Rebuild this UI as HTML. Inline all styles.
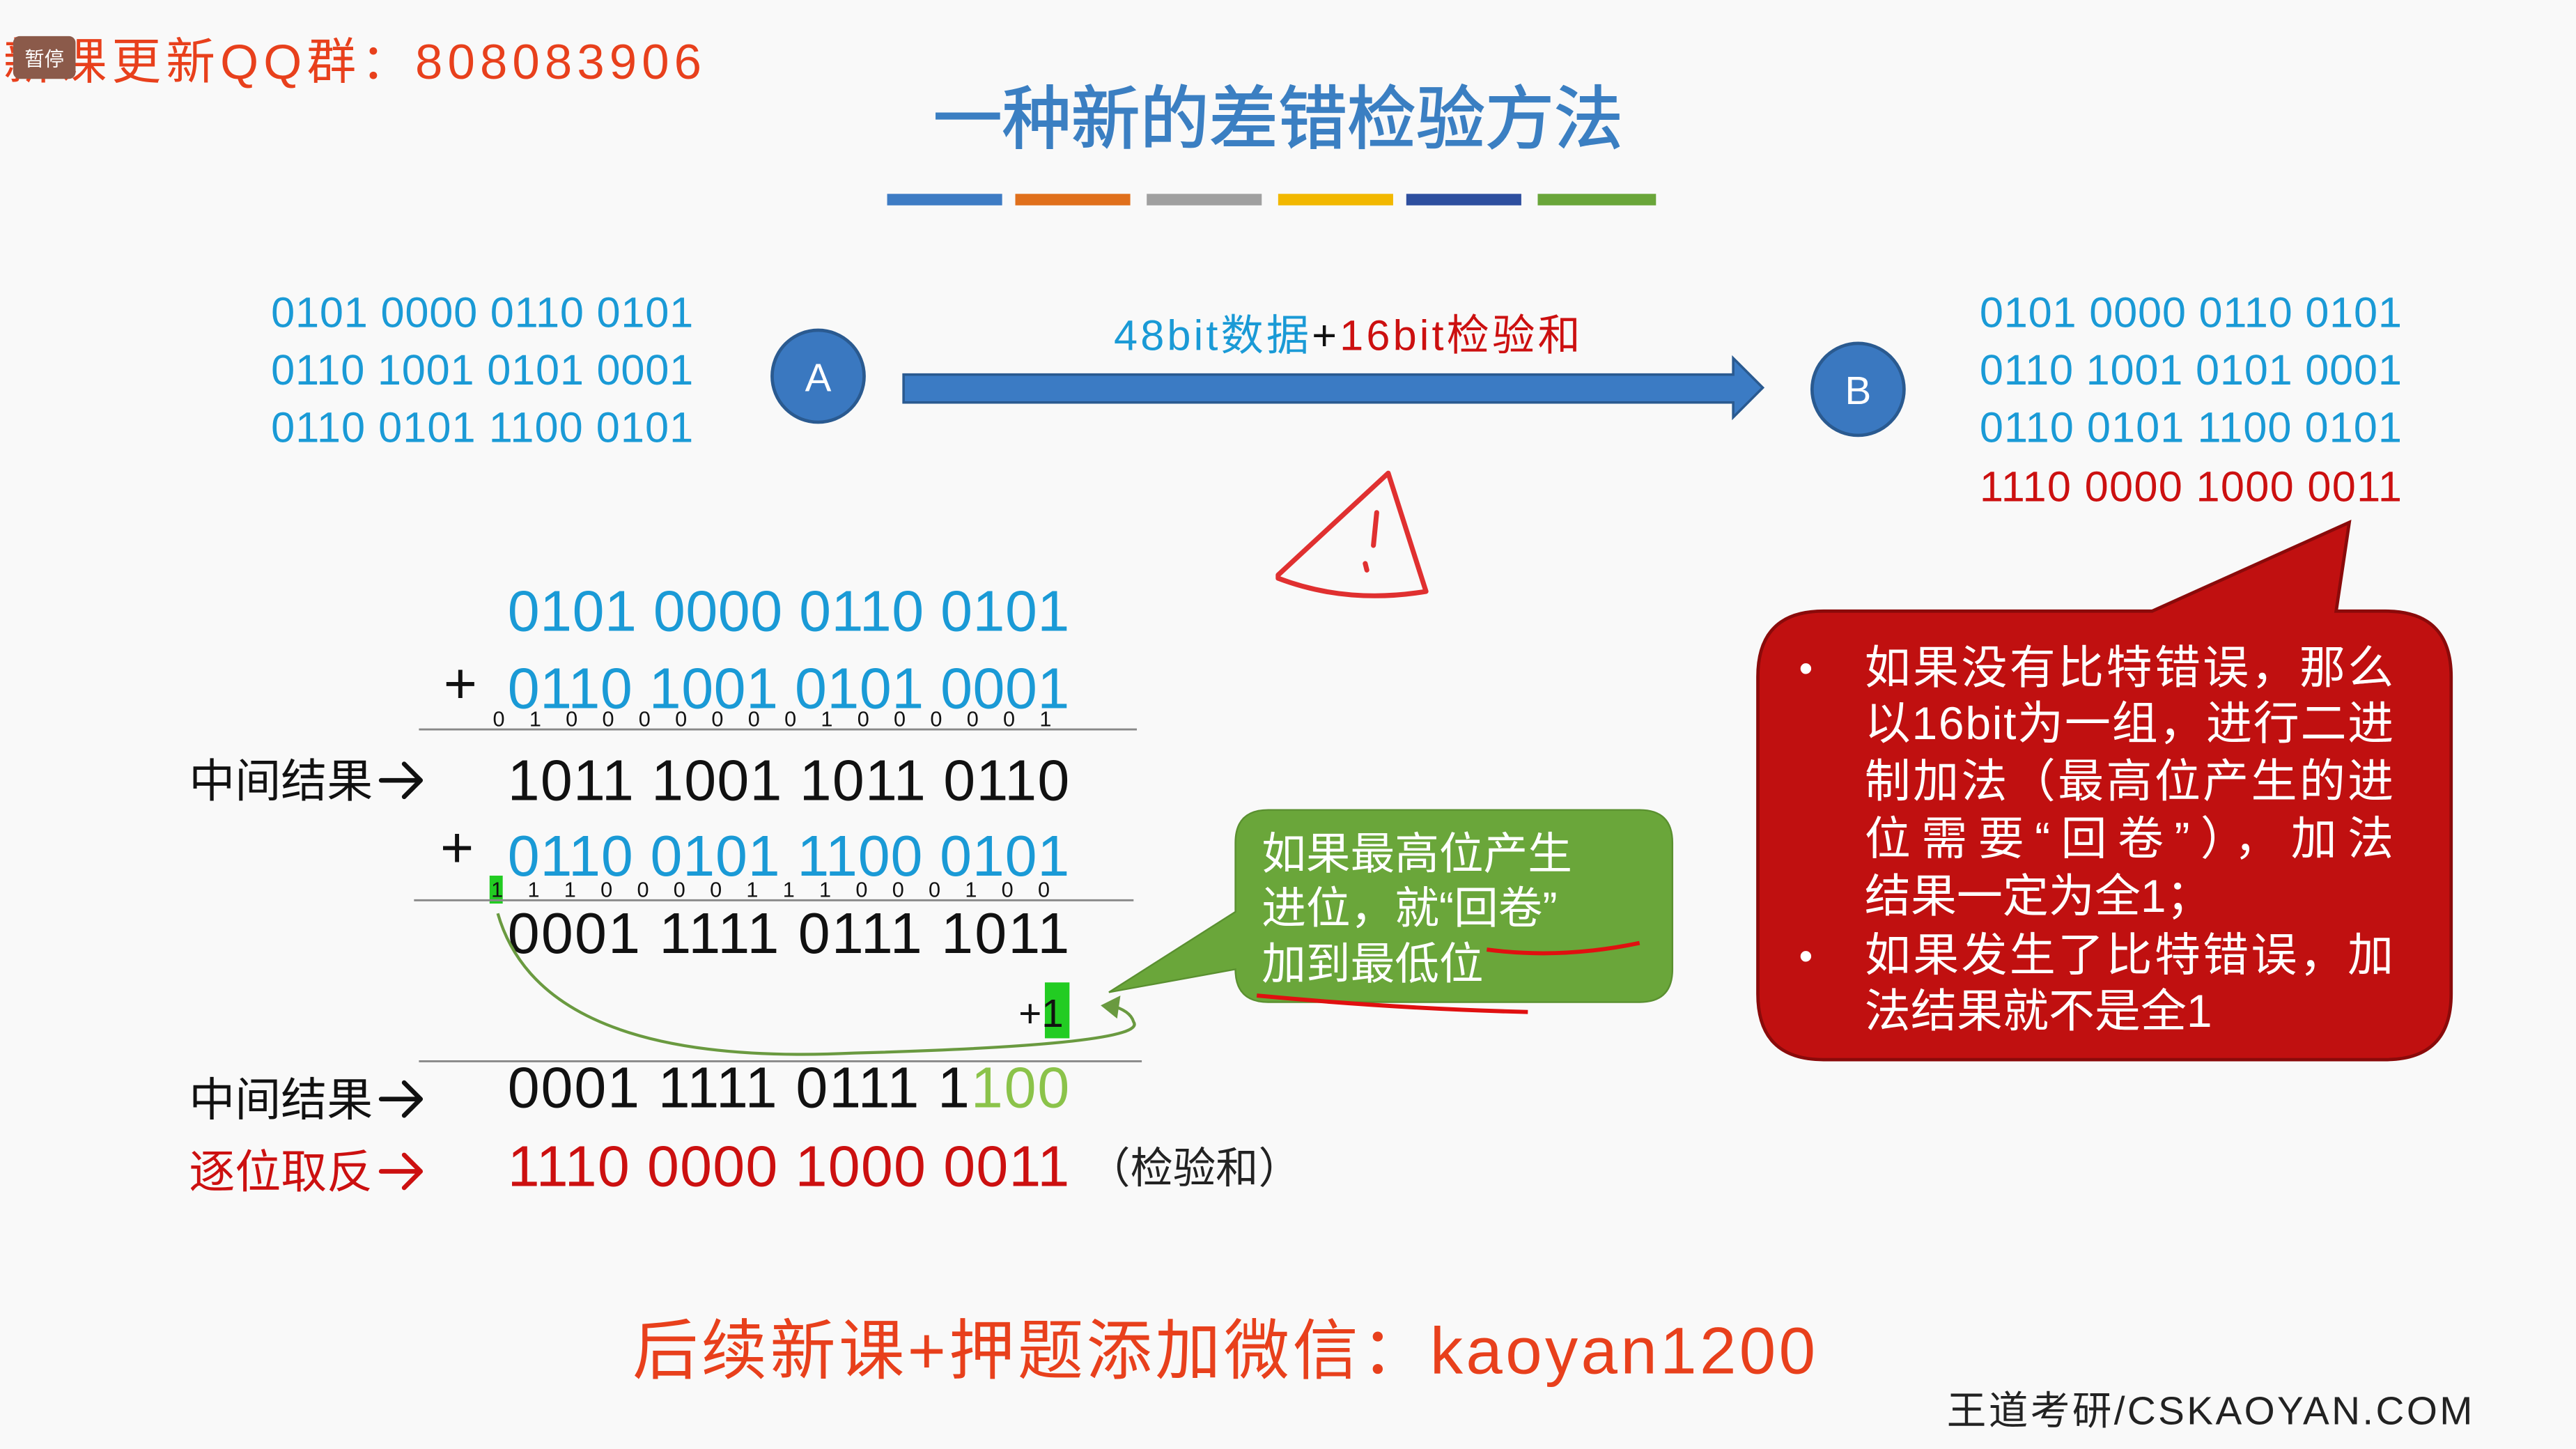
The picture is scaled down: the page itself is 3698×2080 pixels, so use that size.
<!DOCTYPE html>
<html><head><meta charset="utf-8"><style>
html,body{margin:0;padding:0;background:#f9f9f9;}
svg{display:block;}
text{font-family:"Liberation Sans","Noto Sans CJK SC",sans-serif;}
</style></head><body>
<svg width="3698" height="2080" viewBox="0 0 1568 882" preserveAspectRatio="none" xmlns="http://www.w3.org/2000/svg">
<rect width="1568" height="882" fill="#f9f9f9"/>
<!-- header -->
<text x="2" y="48" font-size="30" fill="#e8401c" textLength="425">新课更新QQ群：808083906</text>
<rect x="8" y="22" width="38" height="26" rx="4" fill="#8b5a4a"/>
<text x="27" y="40" font-size="12" fill="#fff" text-anchor="middle">暂停</text>
<text x="778" y="87" font-size="42" fill="#3b7fc2" stroke="#3b7fc2" stroke-width="0.8" text-anchor="middle">一种新的差错检验方法</text>
<rect x="540" y="118" width="70" height="7" fill="#3e7cc4"/>
<rect x="618" y="118" width="70" height="7" fill="#e0701c"/>
<rect x="698" y="118" width="70" height="7" fill="#a0a0a0"/>
<rect x="778" y="118" width="70" height="7" fill="#f2b800"/>
<rect x="856" y="118" width="70" height="7" fill="#2e4f9f"/>
<rect x="936" y="118" width="72" height="7" fill="#6aa63a"/>
<!-- left data -->
<g font-size="26" fill="#1a9ad6">
<text x="165" y="199" textLength="257">0101 0000 0110 0101</text>
<text x="165" y="234" textLength="257">0110 1001 0101 0001</text>
<text x="165" y="269" textLength="257">0110 0101 1100 0101</text>
</g>
<circle cx="498" cy="229" r="28" fill="#3a78c0" stroke="#2a5a90" stroke-width="2"/>
<text x="498" y="238" font-size="24" fill="#fff" text-anchor="middle">A</text>
<path d="M550 228 L1055 228 L1055 218 L1073 236 L1055 254 L1055 245 L550 245 Z" fill="#3b7bc4" stroke="#2a5a90" stroke-width="1.5"/>
<text x="678" y="213" font-size="26" textLength="284"><tspan fill="#1a9ad6">48bit数据</tspan><tspan fill="#111">+</tspan><tspan fill="#cc1010">16bit检验和</tspan></text>
<circle cx="1131" cy="237" r="28" fill="#3a78c0" stroke="#2a5a90" stroke-width="2"/>
<text x="1131" y="246" font-size="24" fill="#fff" text-anchor="middle">B</text>
<g font-size="26">
<text x="1205" y="199" fill="#1a9ad6" textLength="257">0101 0000 0110 0101</text>
<text x="1205" y="234" fill="#1a9ad6" textLength="257">0110 1001 0101 0001</text>
<text x="1205" y="269" fill="#1a9ad6" textLength="257">0110 0101 1100 0101</text>
<text x="1205" y="305" fill="#cc1010" textLength="257">1110 0000 1000 0011</text>
</g>
<!-- warning -->
<path d="M778 350 L845 288 L868 360 Q820 368 778 352 Z" fill="none" stroke="#e03030" stroke-width="3" stroke-linejoin="round"/>
<path d="M838 312 L836 332 M831 343 L832 347" stroke="#e03030" stroke-width="3" fill="none" stroke-linecap="round"/>
<!-- red bubble -->
<path d="M1110 372 L1310 372 L1430 318 L1422 372 L1452 372 Q1492 372 1492 412 L1492 605 Q1492 645 1452 645 L1110 645 Q1070 645 1070 605 L1070 412 Q1070 372 1110 372 Z" fill="#c01010" stroke="#8a0a0a" stroke-width="2"/>
<g font-size="28" fill="#fff">
<text x="1095" y="415" font-size="24">•</text>
<text x="1135" y="416" textLength="322">如果没有比特错误，那么</text>
<text x="1135" y="450" textLength="322">以16bit为一组，进行二进</text>
<text x="1135" y="485" textLength="322">制加法（最高位产生的进</text>
<text x="1135" y="520" textLength="322">位需要“回卷”），加法</text>
<text x="1135" y="555">结果一定为全1；</text>
<text x="1095" y="590" font-size="24">•</text>
<text x="1135" y="591" textLength="322">如果发生了比特错误，加</text>
<text x="1135" y="625">法结果就不是全1</text>
</g>
<!-- calculation -->
<g font-size="35">
<text x="309" y="384" fill="#1a9ad6" textLength="342">0101 0000 0110 0101</text>
<text x="270" y="428" fill="#111">+</text>
<text x="309" y="431" fill="#1a9ad6" textLength="342">0110 1001 0101 0001</text>
<text x="309" y="487" fill="#111" textLength="342">1011 1001 1011 0110</text>
<text x="268" y="528" fill="#111">+</text>
<text x="309" y="533" fill="#1a9ad6" textLength="342">0110 0101 1100 0101</text>
<text x="309" y="580" fill="#111" textLength="342">0001 1111 0111 1011</text>
<text x="309" y="674" textLength="342"><tspan fill="#111">0001 1111 0111 1</tspan><tspan fill="#8bc34a">100</tspan></text>
<text x="309" y="722" fill="#cc1010" textLength="342">1110 0000 1000 0011</text>
</g>
<text x="300" y="442" font-size="13" fill="#111" textLength="340">0 1 0 0 0 0 0 0 0 1 0 0 0 0 0 1</text>
<line x1="255" y1="444" x2="692" y2="444" stroke="#888" stroke-width="1.2"/>
<rect x="298" y="533" width="8" height="17" fill="#22cc22"/>
<text x="299" y="546" font-size="13" fill="#111" textLength="340">1 1 1 0 0 0 0 1 1 1 0 0 0 1 0 0</text>
<line x1="252" y1="548" x2="690" y2="548" stroke="#888" stroke-width="1.2"/>
<rect x="636" y="598" width="15" height="34" fill="#22cc22"/>
<text x="620" y="625" font-size="24" fill="#111">+1</text>
<path d="M303 556 Q330 650 520 641 Q700 636 690 622 Q688 615 676 612" fill="none" stroke="#6a9a40" stroke-width="1.8"/>
<path d="M670 612 L682 606 L680 620 Z" fill="#6a9a40"/>
<line x1="255" y1="646" x2="695" y2="646" stroke="#888" stroke-width="1.2"/>
<g font-size="28">
<text x="115" y="485" fill="#111">中间结果</text>
<text x="115" y="679" fill="#111">中间结果</text>
<text x="115" y="723" fill="#cc1010">逐位取反</text>
</g>
<g fill="none" stroke-width="2.8" stroke-linecap="round" stroke-linejoin="round">
<path d="M232 475 L256 475 M246 465 L256 475 L246 485" stroke="#111"/>
<path d="M232 669 L256 669 M246 659 L256 669 L246 679" stroke="#111"/>
<path d="M232 713 L256 713 M246 703 L256 713 L246 723" stroke="#cc1010"/>
</g>
<text x="662" y="720" font-size="26" fill="#222">（检验和）</text>
<!-- green bubble -->
<path d="M772 493 L998 493 Q1018 493 1018 513 L1018 590 Q1018 610 998 610 L772 610 Q752 610 752 590 L752 590 L675 604 L752 555 L752 513 Q752 493 772 493 Z" fill="#6aa63a" stroke="#5a9030" stroke-width="1"/>
<g font-size="27" fill="#fff">
<text x="768" y="529">如果最高位产生</text>
<text x="768" y="562">进位，就“回卷”</text>
<text x="768" y="596">加到最低位</text>
</g>
<path d="M905 578 Q950 584 998 574" fill="none" stroke="#e01010" stroke-width="2.5"/>
<path d="M765 606 Q850 614 930 616" fill="none" stroke="#e01010" stroke-width="2.5"/>
<!-- footer -->
<text x="745" y="836" font-size="40" fill="#e8401c" text-anchor="middle" textLength="720">后续新课+押题添加微信：kaoyan1200</text>
<text x="1185" y="867" font-size="24" fill="#222" textLength="320">王道考研/CSKAOYAN.COM</text>
</svg>
</body></html>
